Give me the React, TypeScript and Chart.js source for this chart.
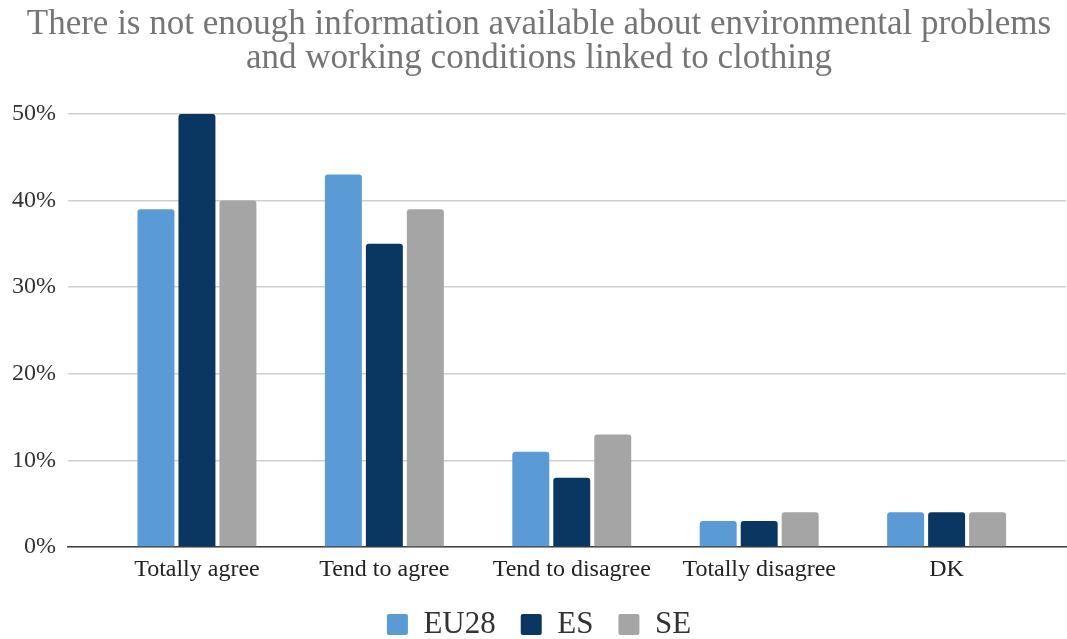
import React, { useEffect, useRef } from "react";
import { Chart, registerables } from "chart.js";

Chart.register(...registerables);

const titleLines = [
  "There is not enough information available about environmental problems",
  "and working conditions linked to clothing",
];
const categories = ["Totally agree", "Tend to agree", "Tend to disagree", "Totally disagree", "DK"];
const seriesNames = ["EU28", "ES", "SE"];
const eu28 = [39, 43, 11, 3, 4];
const es = [50, 35, 8, 3, 4];
const se = [40, 39, 13, 4, 4];
const seriesColors = ["#5b9bd5", "#0a3761", "#a5a5a5"];
const yTicks = [0, 10, 20, 30, 40, 50];

const FONT = "'Liberation Serif', 'Times New Roman', serif";

const CANVAS_W = 1067;
const CANVAS_H = 639;

export default function App() {
  const canvasRef = useRef<HTMLCanvasElement | null>(null);

  useEffect(() => {
    const canvas = canvasRef.current;
    if (!canvas) return;
    const values = [eu28, es, se];
    const chart = new Chart(canvas, {
      type: "bar",
      data: {
        datasets: seriesNames.map((name, s) => ({
          label: name,
          data: values[s].map((v, i) => ({ x: i, y: v })),
          backgroundColor: seriesColors[s],
          borderWidth: 0,
          borderRadius: 3,
          categoryPercentage: 0.656,
          barPercentage: 0.902,
        })),
      },
      options: {
        responsive: false,
        animation: false,
        layout: { padding: { left: 12, right: 1, top: 0, bottom: -11 } },
        plugins: {
          tooltip: { enabled: false },
          title: {
            display: true,
            text: titleLines,
            color: "#757575",
            font: { family: FONT, size: 35, weight: "normal", lineHeight: 0.97 },
            padding: { top: 8, bottom: 38 },
          },
          legend: {
            display: true,
            position: "bottom",
            labels: {
              boxWidth: 21,
              boxHeight: 21,
              padding: 25,
              color: "#333333",
              font: { family: FONT, size: 31 },
              useBorderRadius: true,
              borderRadius: 2,
            },
          },
        },
        scales: {
          x: {
            type: "linear",
            min: -0.688,
            max: 4.637,
            offset: false,
            afterBuildTicks: (scale: any) => {
              scale.ticks = categories.map((_, i) => ({ value: i }));
            },
            afterFit: (scale: any) => {
              scale.height = 37;
            },
            grid: { display: false, drawTicks: false },
            border: { display: true, color: "#404040", width: 1.6 },
            ticks: {
              padding: 8,
              color: "#222222",
              font: { family: FONT, size: 24 },
              maxRotation: 0,
              autoSkip: false,
              callback: (v: any) => categories[v as number] ?? "",
            },
          },
          y: {
            min: 0,
            max: 50,
            afterBuildTicks: (scale: any) => {
              scale.ticks = yTicks.map((v) => ({ value: v }));
            },
            afterFit: (scale: any) => {
              scale.width = 56;
            },
            grid: { color: "#cfcfcf", lineWidth: 1.6, drawTicks: false },
            border: { display: false },
            ticks: {
              padding: 12,
              color: "#333333",
              font: { family: FONT, size: 24 },
              callback: (v: any) => `${v}%`,
            },
          },
        },
      },
    });
    return () => chart.destroy();
  }, []);

  return (
    <div
      style={{
        position: "absolute",
        left: 0,
        top: 0,
        width: CANVAS_W,
        height: CANVAS_H,
        overflow: "hidden",
        background: "#ffffff",
      }}
    >
      <canvas ref={canvasRef} width={CANVAS_W} height={CANVAS_H} style={{ display: "block" }} />
    </div>
  );
}
